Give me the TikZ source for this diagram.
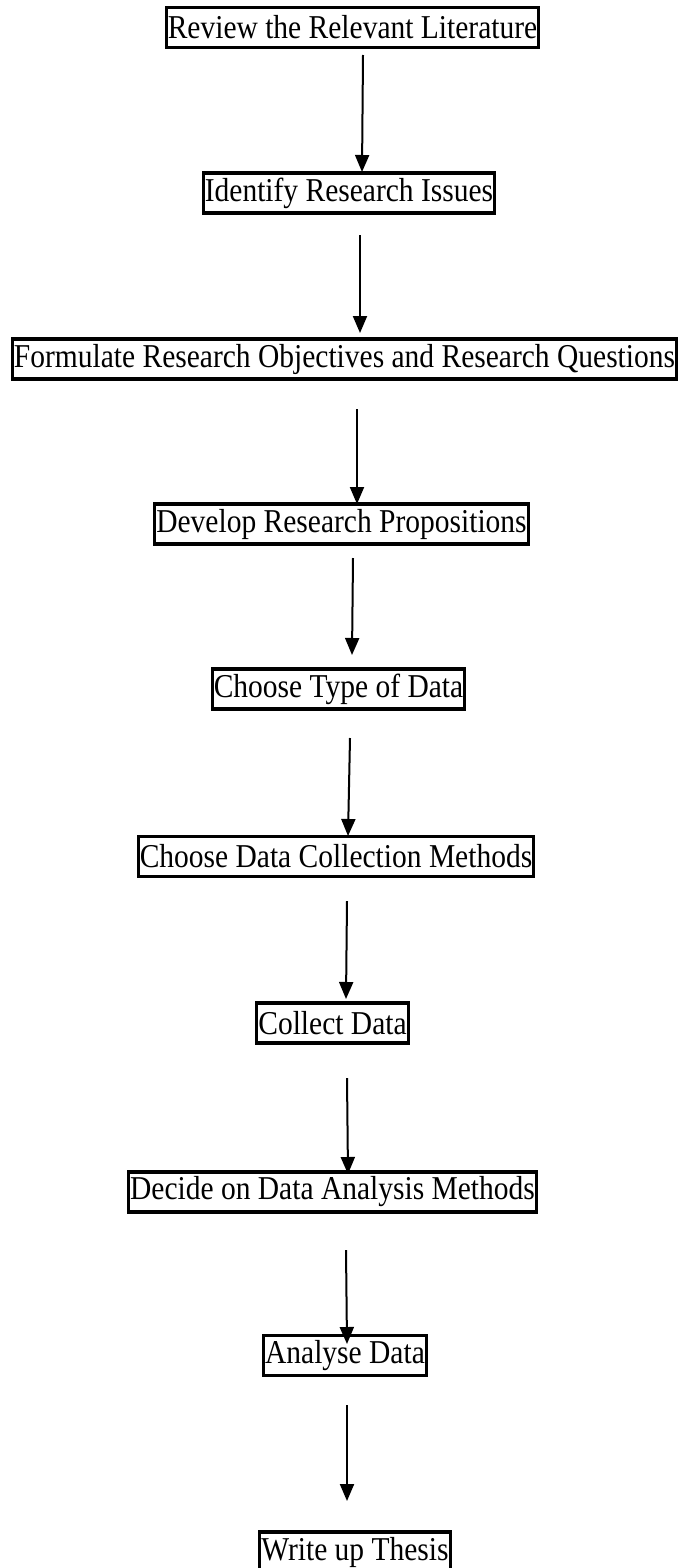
\documentclass[tikz,border=0pt]{standalone}
\usepackage{fontspec}
\setmainfont{Liberation Serif}
\usetikzlibrary{arrows.meta}
% slightly tall step labels
\newcommand{\steptext}[1]{\scalebox{1}[1.13]{#1}}
\begin{document}
\begin{tikzpicture}[x=1pt,y=-1pt,
  stepbox/.style={draw=black, line width=3.2pt, fill=white, inner xsep=1.5pt, inner ysep=0pt,
    minimum height=40pt, font=\fontsize{29.5pt}{32pt}\selectfont},
  flow/.style={line width=2pt, -{Triangle[length=17pt,width=14pt]}}]
\useasboundingbox (0,0) rectangle (682,1568);
\fill[white] (0,0) rectangle (682,1568);

% process steps
\node[stepbox] (n1)  at (352.5,27.5)  {\steptext{Review the Relevant Literature}};
\node[stepbox] (n2)  at (349,193)     {\steptext{Identify Research Issues}};
\node[stepbox] (n3)  at (344.5,359)   {\steptext{Formulate Research Objectives and Research Questions}};
\node[stepbox] (n4)  at (341.5,524)   {\steptext{Develop Research Propositions}};
\node[stepbox] (n5)  at (338.5,689)   {\steptext{Choose Type of Data}};
\node[stepbox] (n6)  at (336,856.5)   {\steptext{Choose Data Collection Methods}};
\node[stepbox] (n7)  at (332.5,1023)  {\steptext{Collect Data}};
\node[stepbox] (n8)  at (332.5,1192)  {\steptext{Decide on Data Analysis Methods}};
\node[stepbox] (n9)  at (345,1355.5)  {\steptext{Analyse Data}};
\node[stepbox] (n10) at (355,1552)    {\steptext{Write up Thesis}};

% arrow ends between the steps
\coordinate (a1s) at (363,55);   \coordinate (a1e) at (362,172);
\coordinate (a2s) at (360,235);  \coordinate (a2e) at (360,333);
\coordinate (a3s) at (357,409);  \coordinate (a3e) at (357,504);
\coordinate (a4s) at (353,558);  \coordinate (a4e) at (352,655);
\coordinate (a5s) at (350,738);  \coordinate (a5e) at (348,836);
\coordinate (a6s) at (347,901);  \coordinate (a6e) at (346,999);
\coordinate (a7s) at (347,1078); \coordinate (a7e) at (348,1174);
\coordinate (a8s) at (346,1250); \coordinate (a8e) at (347,1344);
\coordinate (a9s) at (347,1405); \coordinate (a9e) at (347,1501);

\foreach \i in {1,...,9} {
  \draw[flow] (a\i s) -- (a\i e);
}
\end{tikzpicture}
\end{document}
